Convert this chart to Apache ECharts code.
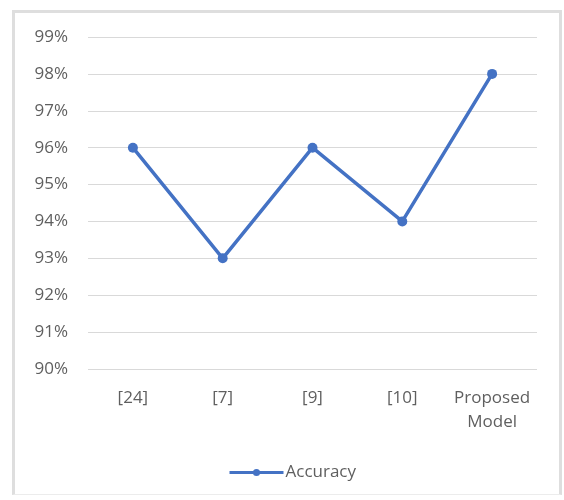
<!DOCTYPE html>
<html><head><meta charset="utf-8">
<script src="https://cdn.jsdelivr.net/npm/echarts@6/dist/echarts.min.js"></script>
<style>
html,body{margin:0;padding:0;background:#fff;}
#frame{position:absolute;left:12px;top:10px;width:544px;height:481px;border:3px solid #dedede;border-bottom:1px solid #ececec;background:#fff;}
#c{position:absolute;left:0;top:0;width:564px;height:500px;}
</style></head>
<body>
<div id="frame"></div>
<div id="c"></div>
<script>
const categories = ['[24]', '[7]', '[9]', '[10]', 'Proposed\nModel'];
const accuracy = [96, 93, 96, 94, 98];
const seriesName = 'Accuracy';

const chart = echarts.init(document.getElementById('c'), null, {renderer:'canvas'});
chart.setOption({
  animation:false,
  backgroundColor:'transparent',
  textStyle:{fontFamily:'Open Sans, Noto Sans, sans-serif'},
  grid:{left:88, right:27, top:37, bottom:131, containLabel:false},
  legend:{
    data:[seriesName], top:459, left:223,
    itemWidth:54, itemHeight:9, itemGap:4,
    lineStyle:{width:3},
    textStyle:{color:'#5f5f5f', fontSize:17, padding:[0,0,0,-3]}
  },
  xAxis:{
    type:'category', data:categories, boundaryGap:true,
    axisLine:{show:false}, axisTick:{show:false},
    axisLabel:{color:'#5f5f5f', fontSize:17, margin:17, lineHeight:24, interval:0}
  },
  yAxis:{
    type:'value', min:90, max:99, interval:1,
    axisLine:{show:false}, axisTick:{show:false},
    axisLabel:{color:'#5f5f5f', fontSize:17, margin:20, formatter:'{value}%'},
    splitLine:{lineStyle:{color:'#d9d9d9', width:1}}
  },
  series:[{
    name:seriesName, type:'line', data:accuracy,
    symbol:'circle', symbolSize:10,
    itemStyle:{color:'#4472C4'},
    lineStyle:{color:'#4472C4', width:3.5}
  }]
});
</script>
</body></html>
